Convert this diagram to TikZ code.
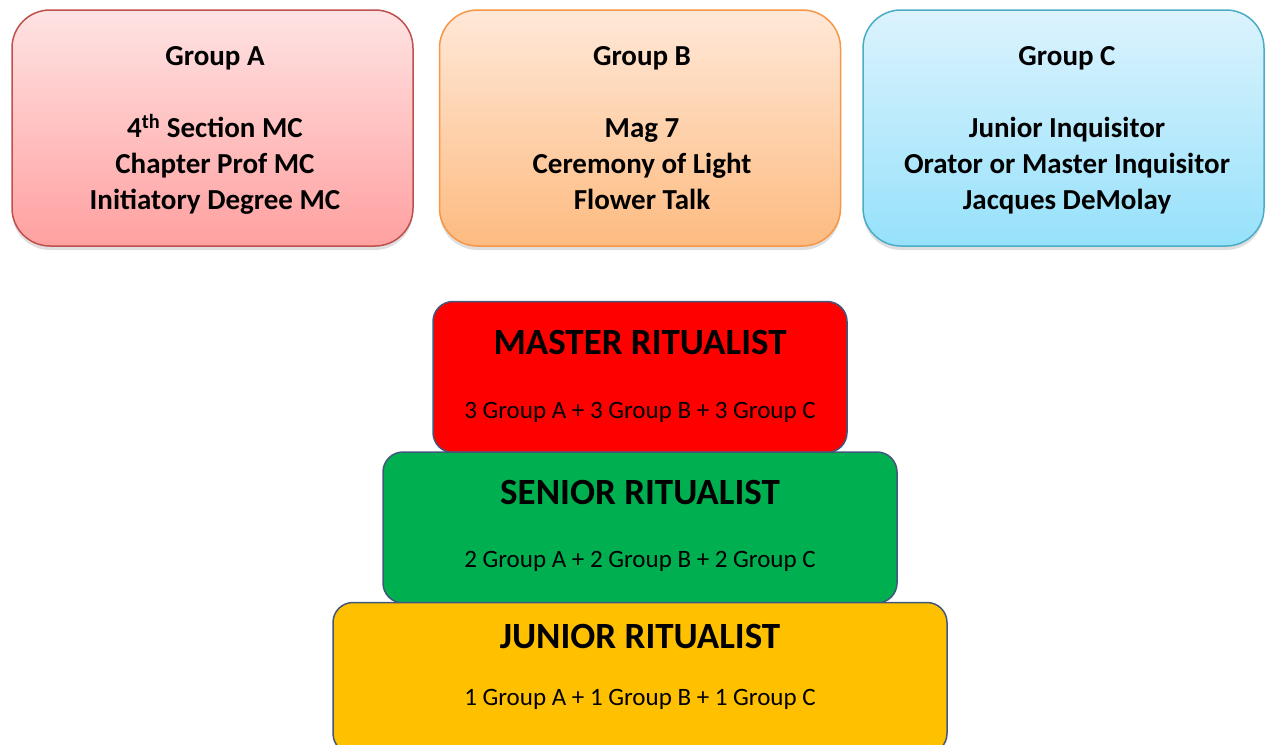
\documentclass[tikz,border=0pt]{standalone}
\usepackage{fontspec}
\setmainfont{Carlito}
\usetikzlibrary{shadows}

\definecolor{grpAline}{HTML}{C0504D}
\definecolor{grpAtop}{HTML}{FFE3E3}
\definecolor{grpAbot}{HTML}{FFA0A0}
\definecolor{grpBline}{HTML}{F79646}
\definecolor{grpBtop}{HTML}{FFE8D8}
\definecolor{grpBbot}{HTML}{FDBB80}
\definecolor{grpCline}{HTML}{4BACC6}
\definecolor{grpCtop}{HTML}{DCF3FD}
\definecolor{grpCbot}{HTML}{96E1FB}
\definecolor{tierline}{HTML}{41587A}
\definecolor{masterfill}{HTML}{FF0000}
\definecolor{seniorfill}{HTML}{00B050}
\definecolor{juniorfill}{HTML}{FFC000}

\begin{document}
\begin{tikzpicture}[x=1pt,y=-1pt,
  group/.style={draw, line width=1.5pt, rounded corners=38pt, minimum width=401pt, minimum height=236pt,
    drop shadow={shadow xshift=0pt, shadow yshift=-4pt, opacity=0.25}},
  grouptext/.style={anchor=north, inner sep=0pt, align=center, font=\bfseries\fontsize{29}{36}\selectfont},
  tier/.style={draw=tierline, line width=1.5pt, rounded corners=20pt, minimum height=151pt},
  tiertitle/.style={anchor=base, font=\bfseries\fontsize{37}{44}\selectfont},
  tiersum/.style={anchor=base, font=\fontsize{25}{30}\selectfont}]
\useasboundingbox (0,0) rectangle (1265,744);
\clip (0,0) rectangle (1265,744);

% Group boxes
\node[group, draw=grpAline, top color=grpAtop, bottom color=grpAbot] (groupA) at (212.5,128) {};
\node[grouptext] (groupAtext) at (215,46) {
Group A\\[36pt]
4\textsuperscript{th} Section MC\\
Chapter Prof MC\\
Initiatory Degree MC
};

\node[group, draw=grpBline, top color=grpBtop, bottom color=grpBbot] (groupB) at (640,128) {};
\node[grouptext] (groupBtext) at (642,46) {
Group B\\[36pt]
Mag 7\\
Ceremony of Light\\
Flower Talk
};

\node[group, draw=grpCline, top color=grpCtop, bottom color=grpCbot] (groupC) at (1063.5,128) {};
\node[grouptext] (groupCtext) at (1067,46) {
Group C\\[36pt]
Junior Inquisitor\\
Orator or Master Inquisitor\\
Jacques DeMolay
};

% Ritualist levels
\node[tier, fill=masterfill, minimum width=414pt] (master) at (640,377) {};
\node[tiertitle] (mastertitle) at (640,354) {MASTER RITUALIST};
\node[tiersum] (mastersum) at (640,418) {3 Group A + 3 Group B + 3 Group C};

\node[tier, fill=seniorfill, minimum width=514pt] (senior) at (640,527.5) {};
\node[tiertitle] (seniortitle) at (640,504) {SENIOR RITUALIST};
\node[tiersum] (seniorsum) at (640,567) {2 Group A + 2 Group B + 2 Group C};

\node[tier, fill=juniorfill, minimum width=614pt] (junior) at (640,678) {};
\node[tiertitle] (juniortitle) at (640,648) {JUNIOR RITUALIST};
\node[tiersum] (juniorsum) at (640,705) {1 Group A + 1 Group B + 1 Group C};

\end{tikzpicture}
\end{document}
